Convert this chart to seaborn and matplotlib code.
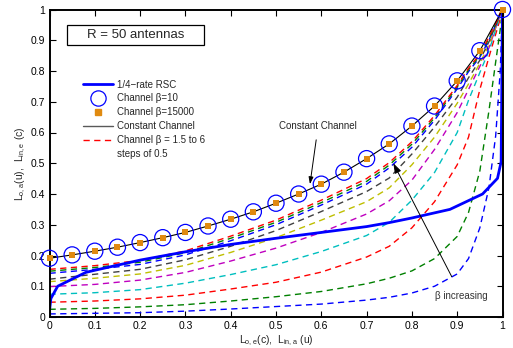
import numpy as np
import pandas as pd
import matplotlib
matplotlib.use("Agg")
import matplotlib.pyplot as plt
from matplotlib.lines import Line2D
from matplotlib.patches import Rectangle
import seaborn as sns

sns.set_style("white")
plt.rcParams['font.family'] = ['Liberation Sans', 'DejaVu Sans']
plt.rcParams['mathtext.default'] = 'regular'

# ---- data ----
x_const = [0.0, 0.05, 0.1, 0.15, 0.2, 0.25, 0.3, 0.35, 0.4, 0.45, 0.5,
           0.55, 0.6, 0.65, 0.7, 0.75, 0.8, 0.85, 0.9, 0.95, 1.0]
y_const = [0.191, 0.202, 0.214, 0.227, 0.242, 0.258, 0.275, 0.296, 0.318, 0.342, 0.370,
           0.400, 0.432, 0.471, 0.515, 0.563, 0.621, 0.686, 0.768, 0.866, 1.0]

x_rsc = [0.0, 0.0, 0.003, 0.018, 0.08, 0.1, 0.2, 0.3, 0.4, 0.5, 0.6, 0.7, 0.75,
         0.8, 0.884, 0.956, 0.989, 0.997, 1.0]
y_rsc = [0.0, 0.02, 0.06, 0.10, 0.145, 0.152, 0.185, 0.212, 0.236, 0.256, 0.275,
         0.294, 0.307, 0.322, 0.350, 0.400, 0.451, 0.505, 1.0]

x_beta = [0.0, 0.1, 0.2, 0.3, 0.4, 0.5, 0.6, 0.7, 0.75, 0.8, 0.85, 0.9,
          0.925, 0.95, 0.97, 0.985, 0.995, 1.0]
y_b15 = [0.010, 0.012, 0.014, 0.019, 0.026, 0.034, 0.042, 0.055, 0.064, 0.078, 0.100, 0.140,
         0.190, 0.290, 0.420, 0.590, 0.800, 1.0]
y_b20 = [0.025, 0.028, 0.033, 0.040, 0.052, 0.066, 0.083, 0.108, 0.126, 0.150, 0.190, 0.262,
         0.340, 0.475, 0.670, 0.830, 0.935, 1.0]
y_b25 = [0.048, 0.052, 0.059, 0.071, 0.091, 0.113, 0.146, 0.195, 0.230, 0.290, 0.375, 0.495,
         0.585, 0.740, 0.845, 0.920, 0.970, 1.0]
y_b30 = [0.074, 0.079, 0.089, 0.110, 0.138, 0.170, 0.213, 0.265, 0.308, 0.380, 0.470, 0.600,
         0.705, 0.795, 0.865, 0.935, 0.980, 1.0]
y_b35 = [0.099, 0.106, 0.120, 0.145, 0.182, 0.224, 0.275, 0.335, 0.378, 0.445, 0.545, 0.665,
         0.740, 0.815, 0.875, 0.940, 0.982, 1.0]
y_b40 = [0.115, 0.126, 0.140, 0.168, 0.210, 0.258, 0.315, 0.375, 0.420, 0.495, 0.585, 0.695,
         0.758, 0.825, 0.885, 0.943, 0.984, 1.0]
y_b45 = [0.123, 0.139, 0.155, 0.186, 0.230, 0.281, 0.343, 0.408, 0.452, 0.530, 0.618, 0.715,
         0.778, 0.835, 0.895, 0.947, 0.986, 1.0]
y_b50 = [0.142, 0.155, 0.171, 0.202, 0.248, 0.300, 0.364, 0.432, 0.485, 0.552, 0.640, 0.742,
         0.798, 0.845, 0.900, 0.950, 0.987, 1.0]
y_b55 = [0.149, 0.161, 0.178, 0.209, 0.256, 0.308, 0.372, 0.441, 0.494, 0.562, 0.648, 0.748,
         0.804, 0.850, 0.905, 0.953, 0.988, 1.0]
y_b60 = [0.155, 0.167, 0.184, 0.215, 0.263, 0.315, 0.380, 0.450, 0.502, 0.570, 0.655, 0.753,
         0.809, 0.855, 0.910, 0.955, 0.989, 1.0]

beta_curves = [y_b15, y_b20, y_b25, y_b30, y_b35, y_b40, y_b45, y_b50, y_b55, y_b60]
beta_colors = [(0, 0, 1), (0, 0.5, 0), (1, 0, 0), (0, 0.75, 0.75), (0.75, 0, 0.75),
               (0.75, 0.75, 0), (0.25, 0.25, 0.25), (0, 0, 1), (0, 0.5, 0), (1, 0, 0)]

x_ticks = [0, 0.1, 0.2, 0.3, 0.4, 0.5, 0.6, 0.7, 0.8, 0.9, 1]
tick_labels = ['0', '0.1', '0.2', '0.3', '0.4', '0.5', '0.6', '0.7', '0.8', '0.9', '1']

# ---- figure ----
fig = plt.figure(figsize=(5.13, 3.48), dpi=100)
ax = fig.add_axes([49.5 / 513, 1 - 317 / 348, 453 / 513, 307.5 / 348])

dash = (0, (4.5, 3.2))
for yb, col in zip(beta_curves, beta_colors):
    df = pd.DataFrame({'x': x_beta, 'y': yb})
    sns.lineplot(data=df, x='x', y='y', ax=ax, color=col, linewidth=1.0,
                 linestyle=dash, estimator=None, sort=False)

df_rsc = pd.DataFrame({'x': x_rsc, 'y': y_rsc})
sns.lineplot(data=df_rsc, x='x', y='y', ax=ax, color=(0, 0, 1), linewidth=2.0,
             estimator=None, sort=False)

df_c = pd.DataFrame({'x': x_const, 'y': y_const})
sns.lineplot(data=df_c, x='x', y='y', ax=ax, color='black', linewidth=0.8,
             estimator=None, sort=False)
sns.scatterplot(data=df_c, x='x', y='y', ax=ax, marker='o', s=135,
                facecolor='none', edgecolor=(0, 0, 1), linewidth=0.9, zorder=5,
                clip_on=False)
sns.scatterplot(data=df_c, x='x', y='y', ax=ax, marker='s', s=22,
                color='#E08A10', edgecolor='#E08A10', linewidth=0, zorder=6,
                clip_on=False)

ax.set_xlim(0, 1)
ax.set_ylim(0, 1)
ax.set_xticks(x_ticks)
ax.set_xticklabels(tick_labels)
ax.set_yticks(x_ticks)
ax.set_yticklabels(tick_labels)
ax.tick_params(direction='in', length=4, width=0.8, labelsize=7.5, top=True, right=True,
               bottom=True, left=True, pad=3, colors='black')
for sp in ax.spines.values():
    sp.set_visible(True)
    sp.set_color('black')
    sp.set_linewidth(1.4)

ax.set_xlabel(r'L$_{o,e}$(c),  L$_{in,a}$ (u)', fontsize=7.5, labelpad=2)
ax.set_ylabel(r'L$_{o,a}$(u),  L$_{in,e}$ (c)', fontsize=7.5, labelpad=2)

# Text box
ax.add_patch(Rectangle((0.0386, 0.8846), 0.3024, 0.065, transform=ax.transAxes,
                       facecolor='white', edgecolor='black', linewidth=0.9, zorder=7))
ax.text(0.19, 0.917, 'R = 50 antennas', transform=ax.transAxes, ha='center', va='center',
        fontsize=9.5, zorder=8)

# Annotations
ax.annotate('Constant Channel', xy=(0.575, 0.432), xytext=(0.593, 0.621),
            ha='center', va='center', fontsize=7,
            arrowprops=dict(arrowstyle='-|>,head_length=0.6,head_width=0.2',
                            color='black', lw=0.7, shrinkA=4, shrinkB=0))
ax.annotate('', xy=(0.759, 0.50), xytext=(0.888, 0.131),
            arrowprops=dict(arrowstyle='-|>,head_length=0.6,head_width=0.2',
                            color='black', lw=0.7, shrinkA=0, shrinkB=0))
ax.text(0.91, 0.068, 'β increasing', ha='center', va='center', fontsize=7,
        color='#333333')

# Legend
handles = [
    Line2D([], [], color=(0, 0, 1), lw=2.0),
    Line2D([], [], marker='o', ls='none', markersize=11, markerfacecolor='none',
           markeredgecolor=(0, 0, 1), markeredgewidth=0.9),
    Line2D([], [], marker='s', ls='none', markersize=4.5, color='#E08A10'),
    Line2D([], [], color=(0.35, 0.35, 0.35), lw=1.0),
    Line2D([], [], color=(1, 0, 0), lw=1.0, linestyle=dash),
    Line2D([], [], color='none', lw=0),
]
labels = ['1/4\u2212rate RSC', 'Channel β=10', 'Channel β=15000', 'Constant Channel',
          'Channel β = 1.5 to 6', 'steps of 0.5']
leg = ax.legend(handles, labels, loc='upper left', bbox_to_anchor=(0.073, 0.772),
                frameon=False, fontsize=7, handlelength=3.1, handletextpad=0.4,
                labelspacing=0.4, borderpad=0, borderaxespad=0)

fig.savefig('out.png', dpi=100)
